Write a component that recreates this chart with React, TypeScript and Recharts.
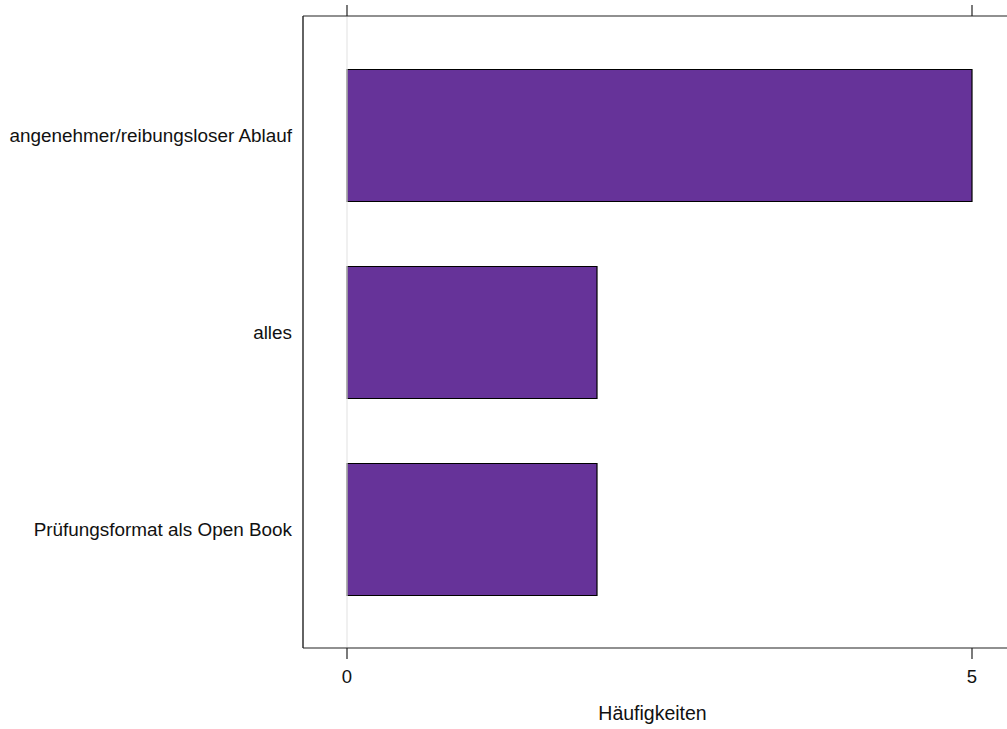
import React from 'react';
import { BarChart, Bar, XAxis, YAxis, ReferenceLine } from 'recharts';

const categories = ['angenehmer/reibungsloser Ablauf', 'alles', 'Prüfungsformat als Open Book'];
const counts = [5, 2, 2];
const xTicks = [0, 5];
const xTitle = 'Häufigkeiten';

const data = categories.map((c, i) => ({ name: c, value: counts[i] }));

const axisColor = '#222';
const font = 'Liberation Sans, Arial, Helvetica, sans-serif';

export default function App() {
  return (
    <div style={{ position: 'fixed', left: 0, top: 0, width: 1007, height: 729, overflow: 'hidden', background: '#fff' }}>
      <BarChart
        width={1030}
        height={729}
        data={data}
        layout="vertical"
        margin={{ top: 0, right: 14, bottom: 0, left: 0 }}
        barSize={132}
      >
        <XAxis
          type="number"
          dataKey="value"
          domain={[-0.352, 5.352]}
          ticks={xTicks}
          allowDataOverflow
          height={81}
          tickSize={11}
          tickMargin={11}
          stroke={axisColor}
          strokeWidth={1.2}
          tick={{ fill: '#111', fontSize: 18.5, fontFamily: font }}
          label={{ value: xTitle, position: 'insideBottom', offset: 9, dx: -7, fill: '#111', fontSize: 19.5, fontFamily: font }}
        />
        <XAxis
          xAxisId="top"
          type="number"
          orientation="top"
          domain={[-0.352, 5.352]}
          ticks={xTicks}
          allowDataOverflow
          height={16}
          tickSize={11}
          stroke={axisColor}
          strokeWidth={1.2}
          tick={() => <g />}
        />
        <YAxis
          type="category"
          dataKey="name"
          width={303}
          tickLine={false}
          tickSize={11}
          tickMargin={0}
          padding={{ top: 20.5, bottom: 20.5 }}
          stroke={axisColor}
          strokeWidth={1.4}
          tick={{ fill: '#111', fontSize: 18.9, fontFamily: font }}
        />
        <ReferenceLine x={0} stroke="#e6e6e6" strokeWidth={1.2} />
        <Bar dataKey="value" fill="#663399" stroke="#000" strokeWidth={1.2} isAnimationActive={false} />
      </BarChart>
    </div>
  );
}
